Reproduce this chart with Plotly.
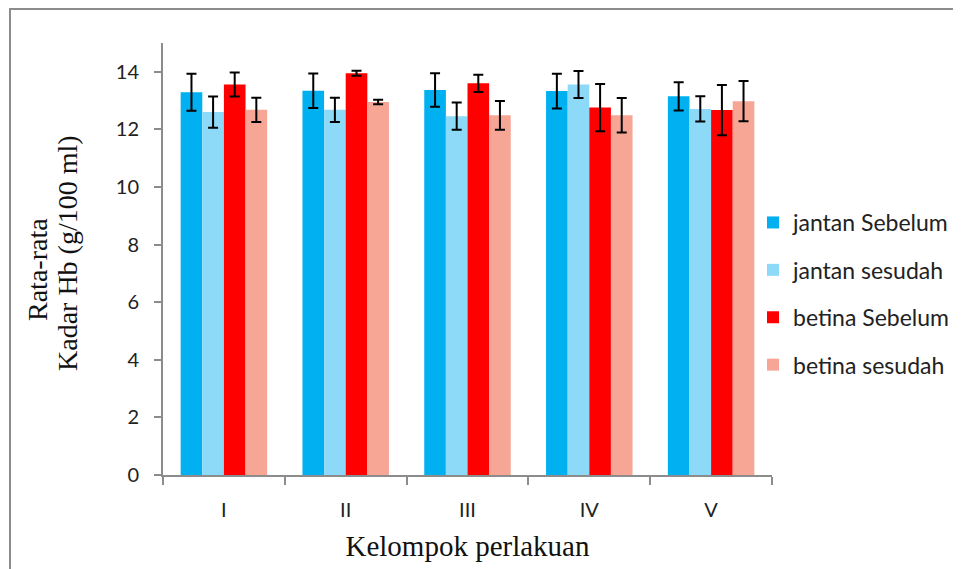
import plotly.graph_objects as go

categories = ["I", "II", "III", "IV", "V"]

series_names = ["jantan Sebelum", "jantan sesudah", "betina Sebelum", "betina sesudah"]
series_colors = ["#00B0F0", "#8DDAF8", "#FF0000", "#F7A696"]

jantan_sebelum = [13.29, 13.34, 13.37, 13.33, 13.15]
jantan_sebelum_err = [0.64, 0.60, 0.58, 0.60, 0.49]

jantan_sesudah = [12.60, 12.68, 12.46, 13.56, 12.71]
jantan_sesudah_err = [0.54, 0.42, 0.47, 0.47, 0.44]

betina_sebelum = [13.56, 13.95, 13.60, 12.76, 12.67]
betina_sebelum_err = [0.42, 0.09, 0.30, 0.82, 0.87]

betina_sesudah = [12.68, 12.95, 12.49, 12.49, 12.98]
betina_sesudah_err = [0.42, 0.08, 0.50, 0.60, 0.70]

values = [jantan_sebelum, jantan_sesudah, betina_sebelum, betina_sesudah]
errors = [jantan_sebelum_err, jantan_sesudah_err, betina_sebelum_err, betina_sesudah_err]

y_ticks = [0, 2, 4, 6, 8, 10, 12, 14]
y_title_lines = ["Rata-rata", "Kadar Hb (g/100 ml)"]
x_title = "Kelompok perlakuan"

fig = go.Figure()
for name, color, vals, errs in zip(series_names, series_colors, values, errors):
    fig.add_trace(go.Bar(
        name=name,
        x=categories,
        y=vals,
        legendgroup=name,
        marker=dict(color=color, line=dict(width=0)),
        error_y=dict(type="data", array=errs, visible=True,
                     color="#000000", thickness=2, width=5),
    ))

axis_color = "#8C8C8C"
OFF = 8  # page body margin
W, H = 961 - OFF, 569 - OFF
L, T = 163 - OFF, 43 - OFF
R = W - (772 - OFF)
B = H - (475 - OFF)
pw, ph = W - L - R, H - T - B

def px_x(p):
    return (p - OFF - L) / pw

def px_y(p):
    return (H - B - (p - OFF)) / ph

title_font = dict(family="Liberation Serif", size=28, color="#111111")

annotations = [
    dict(text=y_title_lines[0], xref="paper", yref="paper",
         x=px_x(37), y=px_y(270), textangle=-90, showarrow=False,
         xanchor="center", yanchor="middle", font=title_font),
    dict(text=y_title_lines[1], xref="paper", yref="paper",
         x=px_x(67), y=px_y(253), textangle=-90, showarrow=False,
         xanchor="center", yanchor="middle", font=title_font),
]

fig.update_layout(
    width=W, height=H,
    margin=dict(l=L, r=R, t=T, b=B, pad=0, autoexpand=False),
    paper_bgcolor="white",
    plot_bgcolor="white",
    barmode="group",
    bargap=0.29,
    bargroupgap=0,
    showlegend=True,
    legend=dict(
        x=px_x(753), xanchor="left",
        y=px_y(294), yanchor="middle",
        font=dict(family="Lato", size=23, color="#222222"),
        tracegroupgap=14.5,
        bgcolor="rgba(0,0,0,0)",
    ),
    xaxis=dict(
        automargin=False,
        showline=True, linecolor=axis_color, linewidth=2,
        ticks="outside", tickson="boundaries", ticklen=8,
        tickcolor=axis_color, tickwidth=2,
        tickfont=dict(family="Lato", size=20, color="#222222"),
        ticklabelstandoff=16,
        title=dict(text=x_title,
                   font=dict(family="Liberation Serif", size=29, color="#111111"),
                   standoff=16),
        showgrid=False,
    ),
    yaxis=dict(
        automargin=False,
        range=[0, 15],
        tickvals=y_ticks,
        showline=True, linecolor=axis_color, linewidth=2,
        ticks="outside", ticklen=7, tickcolor=axis_color, tickwidth=2,
        tickfont=dict(family="Lato", size=20, color="#222222"),
        ticklabelstandoff=11,
        showgrid=False, zeroline=False,
    ),
    annotations=annotations,
    shapes=[dict(
        type="rect", xref="paper", yref="paper",
        x0=px_x(10), x1=px_x(990), y0=px_y(600), y1=px_y(9),
        line=dict(color=axis_color, width=2), fillcolor="rgba(0,0,0,0)",
        layer="below",
    )],
)

fig.write_html("out.html")
